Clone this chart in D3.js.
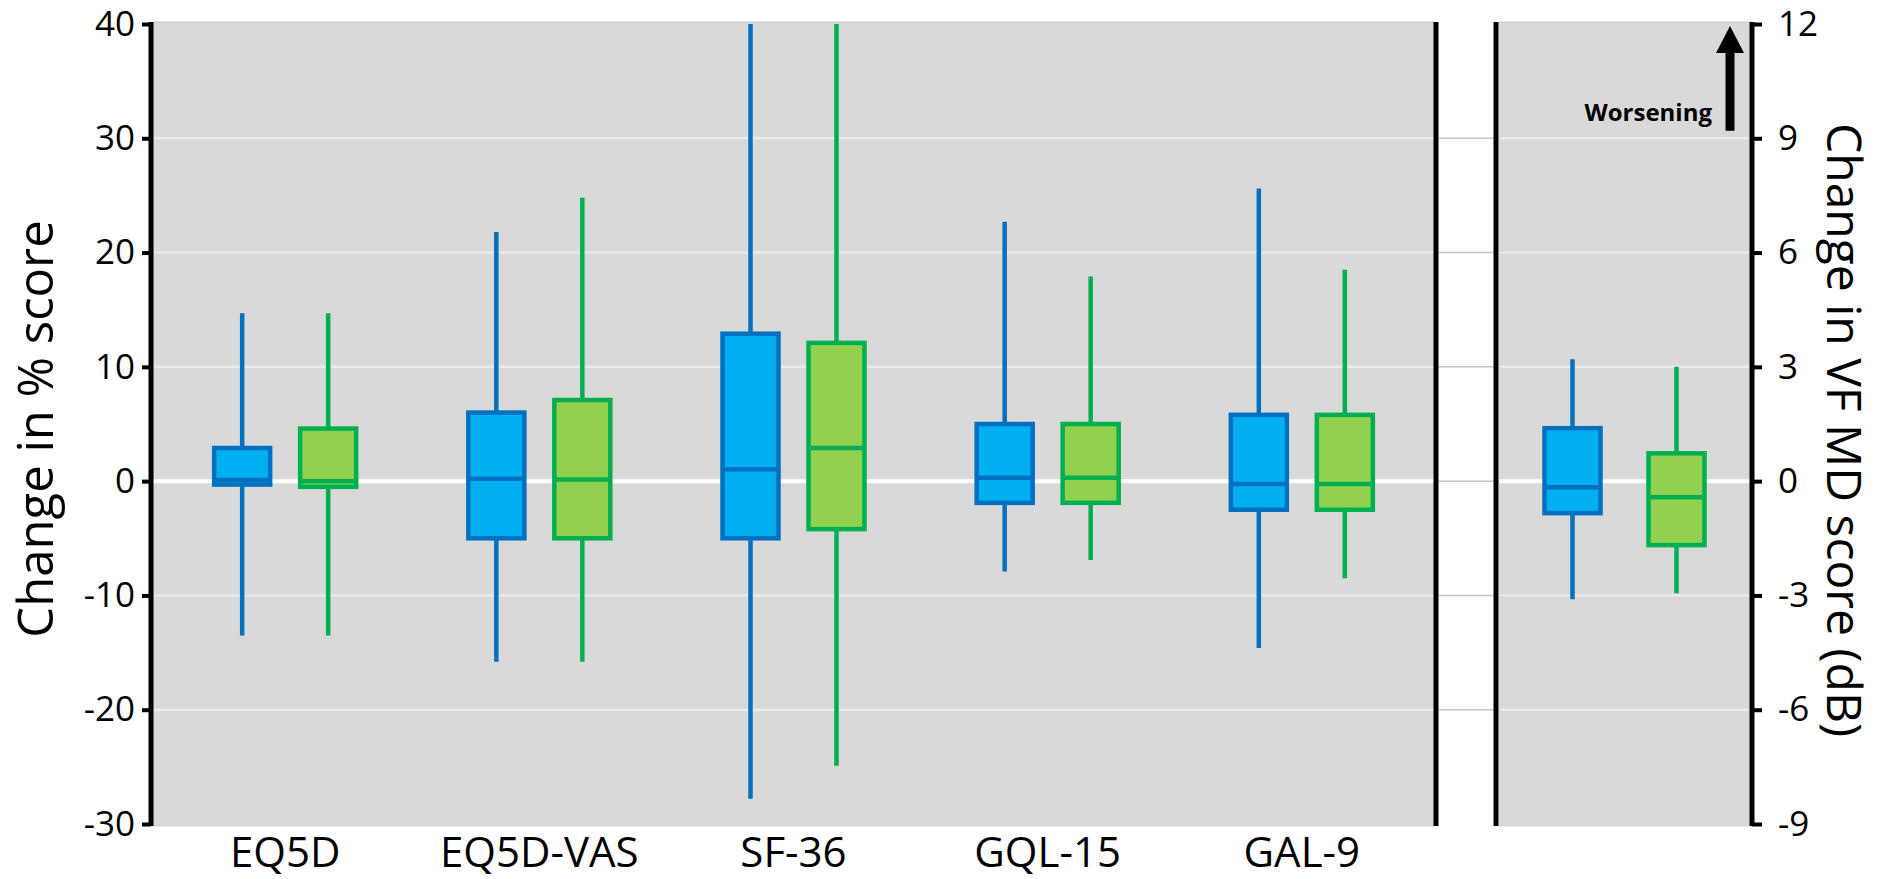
<!DOCTYPE html>
<html>
<head>
<meta charset="utf-8">
<script src="https://cdn.jsdelivr.net/npm/d3@7"></script>
<style>
  body { margin: 0; background: #fff; }
  svg { display: block; font-family: "Open Sans", sans-serif; }
</style>
</head>
<body>
<div id="chart"></div>
<script>
// quality-of-life questionnaires, change in % score
const categories = ["EQ5D", "EQ5D-VAS", "SF-36", "GQL-15", "GAL-9"];
const series = ["Group A", "Group B"];

// [min, q1, median, q3, max] for each category
const groupA = [
  [-13.5, -0.3, 0.1, 2.9, 14.7],
  [-15.8, -5.0, 0.2, 6.0, 21.8],
  [-27.8, -5.0, 1.05, 12.9, 40],
  [-7.9, -1.9, 0.3, 5.0, 22.7],
  [-14.6, -2.5, -0.25, 5.8, 25.6]
];
const groupB = [
  [-13.5, -0.5, 0.0, 4.6, 14.7],
  [-15.8, -5.0, 0.15, 7.1, 24.8],
  [-24.9, -4.2, 2.9, 12.1, 40],
  [-6.9, -1.9, 0.3, 5.0, 17.9],
  [-8.5, -2.5, -0.25, 5.8, 18.5]
];

// visual field, change in MD score (dB)
const vfCategory = "VF MD";
const vfA = [-3.1, -0.84, -0.16, 1.39, 3.2];
const vfB = [-2.94, -1.68, -0.42, 0.73, 3.0];

const leftTicks = [-30, -20, -10, 0, 10, 20, 30, 40];
const rightTicks = [-9, -6, -3, 0, 3, 6, 9, 12];

const fills = { "Group A": "#00B0F0", "Group B": "#92D050" };
const strokes = { "Group A": "#0070C0", "Group B": "#00B050" };

const width = 1879, height = 879;
const plotTop = 22, plotBottom = 826;
const panel1 = [153, 1434], panel2 = [1499, 1750];

const svg = d3.select("#chart").append("svg")
  .attr("width", width)
  .attr("height", height);

const yL = d3.scaleLinear().domain([-30, 40]).range([824, 24]);
const yR = d3.scaleLinear().domain([-9, 12]).range([824, 24]);

const x = d3.scalePoint().domain(categories).range(panel1).padding(0.52);
const xIn = d3.scalePoint().domain(series).range([-43, 43]);
const xVF = d3.scalePoint().domain([vfCategory]).range(panel2).padding(0.5);
const xInVF = d3.scalePoint().domain(series).range([-52, 52]);

// gap gridlines between the two panels
svg.append("g").selectAll("line").data(leftTicks.slice(1, -1)).join("line")
  .attr("x1", panel1[1]).attr("x2", panel2[0])
  .attr("y1", d => yL(d)).attr("y2", d => yL(d))
  .attr("stroke", "#c6c6c6").attr("stroke-width", 1.5);

// panels
[panel1, panel2].forEach(p => {
  let g = svg.append("g");
  g.append("rect")
    .attr("x", p[0]).attr("y", plotTop)
    .attr("width", p[1] - p[0]).attr("height", plotBottom - plotTop)
    .attr("fill", "#D9D9D9");
  g.append("line").attr("x1", p[0]).attr("x2", p[1]).attr("y1", plotTop).attr("y2", plotTop)
    .attr("stroke", "#c4c4c4").attr("stroke-width", 1);
  g.append("line").attr("x1", p[0]).attr("x2", p[1]).attr("y1", plotBottom).attr("y2", plotBottom)
    .attr("stroke", "#cfcfcf").attr("stroke-width", 1);
  g.selectAll(".grid").data(leftTicks.slice(1, -1)).join("line")
    .attr("class", "grid")
    .attr("x1", p[0]).attr("x2", p[1])
    .attr("y1", d => yL(d)).attr("y2", d => yL(d))
    .attr("stroke", d => d === 0 ? "#ffffff" : "#eeeeee")
    .attr("stroke-width", d => d === 0 ? 4 : 2);
});

function drawBoxes(rows, xs, xi, y) {
  let box = svg.append("g").selectAll("g").data(rows).join("g")
    .attr("transform", d => `translate(${xs(d.cat) + xi(d.s)},0)`);

  box.append("line")
    .attr("y1", d => y(d.v[0])).attr("y2", d => y(d.v[4]))
    .attr("stroke", d => strokes[d.s]).attr("stroke-width", 4.5);

  box.append("rect")
    .attr("x", -28).attr("width", 56)
    .attr("y", d => y(d.v[3]))
    .attr("height", d => y(d.v[1]) - y(d.v[3]))
    .attr("fill", d => fills[d.s])
    .attr("stroke", d => strokes[d.s]).attr("stroke-width", 4.5);

  box.append("line")
    .attr("x1", -28).attr("x2", 28)
    .attr("y1", d => y(d.v[2])).attr("y2", d => y(d.v[2]))
    .attr("stroke", d => strokes[d.s]).attr("stroke-width", 4.5);
}

let rows = categories.flatMap((c, i) => [
  { cat: c, s: series[0], v: groupA[i] },
  { cat: c, s: series[1], v: groupB[i] }
]);
drawBoxes(rows, x, xIn, yL);
drawBoxes([
  { cat: vfCategory, s: series[0], v: vfA },
  { cat: vfCategory, s: series[1], v: vfB }
], xVF, xInVF, yR);

// axes
let axL = svg.append("g").attr("transform", "translate(151,0)")
  .call(d3.axisLeft(yL).tickValues(leftTicks).tickSize(9).tickSizeOuter(0).tickPadding(7).tickFormat(d => d));
let axR = svg.append("g").attr("transform", "translate(1752,0)")
  .call(d3.axisRight(yR).tickValues(rightTicks).tickSize(10).tickSizeOuter(0).tickPadding(16).tickFormat(d => d));

[axL, axR].forEach(ax => {
  ax.select(".domain").remove();
  ax.selectAll(".tick line").attr("stroke", "#000").attr("stroke-width", 4);
  ax.selectAll(".tick text").attr("fill", "#000")
    .style("font-size", "35px").style("font-family", "'Open Sans', sans-serif");
});

// heavy vertical rules
[151, 1436, 1496, 1752].forEach(xx => {
  svg.append("line")
    .attr("x1", xx).attr("x2", xx).attr("y1", plotTop).attr("y2", plotBottom)
    .attr("stroke", "#000").attr("stroke-width", 5);
});

// category labels
svg.append("g").selectAll("text").data(categories).join("text")
  .attr("x", d => x(d)).attr("y", 867)
  .attr("text-anchor", "middle")
  .style("font-size", "42px")
  .text(d => d);

// axis titles
svg.append("text")
  .attr("transform", "translate(53,429) rotate(-90)")
  .attr("text-anchor", "middle")
  .style("font-size", "49px")
  .text("Change in % score");

svg.append("text")
  .attr("transform", "translate(1827,430) rotate(90)")
  .attr("text-anchor", "middle")
  .style("font-size", "48px")
  .text("Change in VF MD score (dB)");

// worsening arrow
let ax = panel2[1] - 20, yb = yR(9.2), yt = yR(11.95);
svg.append("path")
  .attr("d", `M${ax - 4.5},${yb} L${ax - 4.5},${yt + 27} L${ax - 14},${yt + 27} L${ax},${yt} L${ax + 14},${yt + 27} L${ax + 4.5},${yt + 27} L${ax + 4.5},${yb} Z`)
  .attr("fill", "#000");

svg.append("text")
  .attr("x", panel2[1] - 38).attr("y", yR(9.45))
  .attr("text-anchor", "end")
  .style("font-size", "24px").style("font-weight", "bold")
  .text("Worsening");
</script>
</body>
</html>
